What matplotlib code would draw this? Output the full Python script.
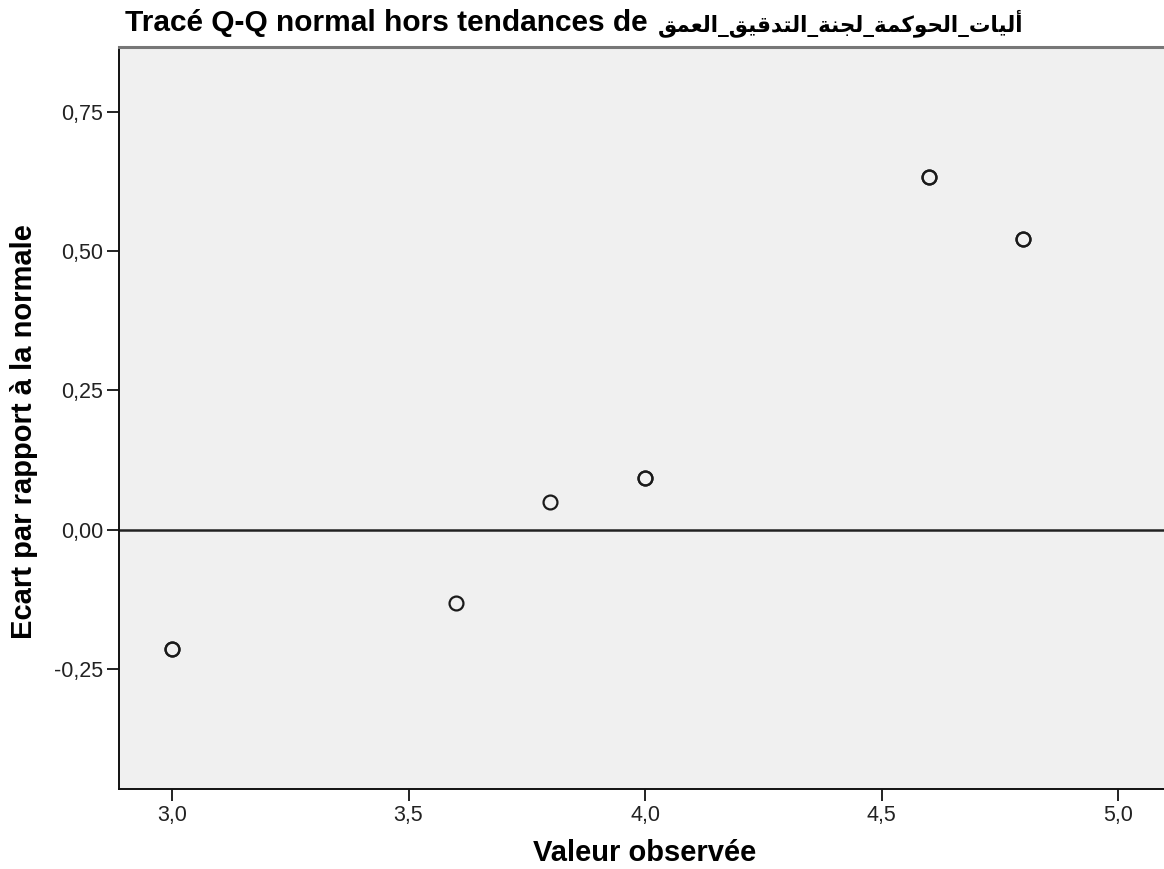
import matplotlib
matplotlib.use('Agg')
import matplotlib.pyplot as plt

observed = [3.0, 3.6, 3.8, 4.0, 4.6, 4.8]
deviation = [-0.214, -0.131, 0.049, 0.093, 0.633, 0.522]
counts = [2, 1, 1, 2, 2, 2]

x_ticks = [3.0, 3.5, 4.0, 4.5, 5.0]
y_ticks = [-0.25, 0.0, 0.25, 0.50, 0.75]

title_fr = 'Tracé Q-Q normal hors tendances de'
title_ar = 'أليات_الحوكمة_لجنة_التدقيق_العمق'
x_label = 'Valeur observée'
y_label = 'Ecart par rapport à la normale'

# (isolated, final, initial, medial) presentation forms
FORMS = {
    'ا': (0xFE8D, 0xFE8E, None, None),
    'أ': (0xFE83, 0xFE84, None, None),
    'ت': (0xFE95, 0xFE96, 0xFE97, 0xFE98),
    'ة': (0xFE93, 0xFE94, None, None),
    'ج': (0xFE9D, 0xFE9E, 0xFE9F, 0xFEA0),
    'ح': (0xFEA1, 0xFEA2, 0xFEA3, 0xFEA4),
    'د': (0xFEA9, 0xFEAA, None, None),
    'ع': (0xFEC9, 0xFECA, 0xFECB, 0xFECC),
    'ق': (0xFED5, 0xFED6, 0xFED7, 0xFED8),
    'ك': (0xFED9, 0xFEDA, 0xFEDB, 0xFEDC),
    'ل': (0xFEDD, 0xFEDE, 0xFEDF, 0xFEE0),
    'م': (0xFEE1, 0xFEE2, 0xFEE3, 0xFEE4),
    'ن': (0xFEE5, 0xFEE6, 0xFEE7, 0xFEE8),
    'و': (0xFEED, 0xFEEE, None, None),
    'ي': (0xFEF1, 0xFEF2, 0xFEF3, 0xFEF4),
}


def shape_arabic(text):
    # minimal contextual shaping + visual (reversed) order, matplotlib has no RTL layout
    out = []
    for i, ch in enumerate(text):
        if ch not in FORMS:
            out.append(ch)
            continue
        prev = text[i - 1] if i > 0 else None
        nxt = text[i + 1] if i + 1 < len(text) else None
        joins_prev = prev in FORMS and FORMS[prev][2] is not None
        joins_next = nxt in FORMS and FORMS[ch][2] is not None
        iso, fin, ini, med = FORMS[ch]
        if joins_prev and joins_next:
            code = med
        elif joins_prev:
            code = fin
        elif joins_next:
            code = ini
        else:
            code = iso
        out.append(chr(code))
    return ''.join(reversed(out))


plt.rcParams['font.family'] = ['Liberation Sans', 'DejaVu Sans']

W, H = 1164, 869
fig = plt.figure(figsize=(W / 100, H / 100), dpi=100)
ax = fig.add_axes([119 / W, 1 - 789 / H, 1 - 119 / W, (789 - 47) / H])
ax.set_facecolor('#f0f0f0')

ax.axhline(0, color='#222222', linewidth=1.8, zorder=1)

for x, y, n in zip(observed, deviation, counts):
    for _ in range(n):
        ax.plot(x, y, 'o', markersize=10, markerfacecolor='none',
                markeredgecolor='#1a1a1a', markeredgewidth=1.6, zorder=3)

ax.set_xlim(2.888, 5.097)
ax.set_ylim(-0.466, 0.867)
ax.set_xticks(x_ticks)
ax.set_xticklabels([('%.1f' % v).replace('.', ',') for v in x_ticks])
ax.set_yticks(y_ticks)
ax.set_yticklabels([('%.2f' % v).replace('.', ',') for v in y_ticks])
ax.tick_params(direction='out', length=8.5, width=1.4, color='#222222',
               labelsize=15.5, labelcolor='#222222', pad=3)

for side in ['left', 'bottom']:
    ax.spines[side].set_color('#111111')
    ax.spines[side].set_linewidth(1.4)
ax.spines['right'].set_visible(False)
ax.spines['top'].set_color('#777777')
ax.spines['top'].set_linewidth(2.2)

fig.text(645 / W, 1 - 861 / H, x_label, fontsize=21, fontweight='bold',
         ha='center', va='baseline')
fig.text(24 / W, 1 - 432 / H, y_label, fontsize=21, fontweight='bold',
         rotation=90, ha='center', va='center')

t1 = fig.text(125 / W, 1 - 31 / H, title_fr, fontsize=21.5,
              fontweight='bold', ha='left', va='baseline')
renderer = fig.canvas.get_renderer()
bb = t1.get_window_extent(renderer=renderer)
fig.text((bb.x1 + 10) / W, 1 - 31 / H, shape_arabic(title_ar),
         fontsize=15.5, fontweight='bold', family='DejaVu Sans',
         ha='left', va='baseline')

fig.savefig('out.png', dpi=100)
